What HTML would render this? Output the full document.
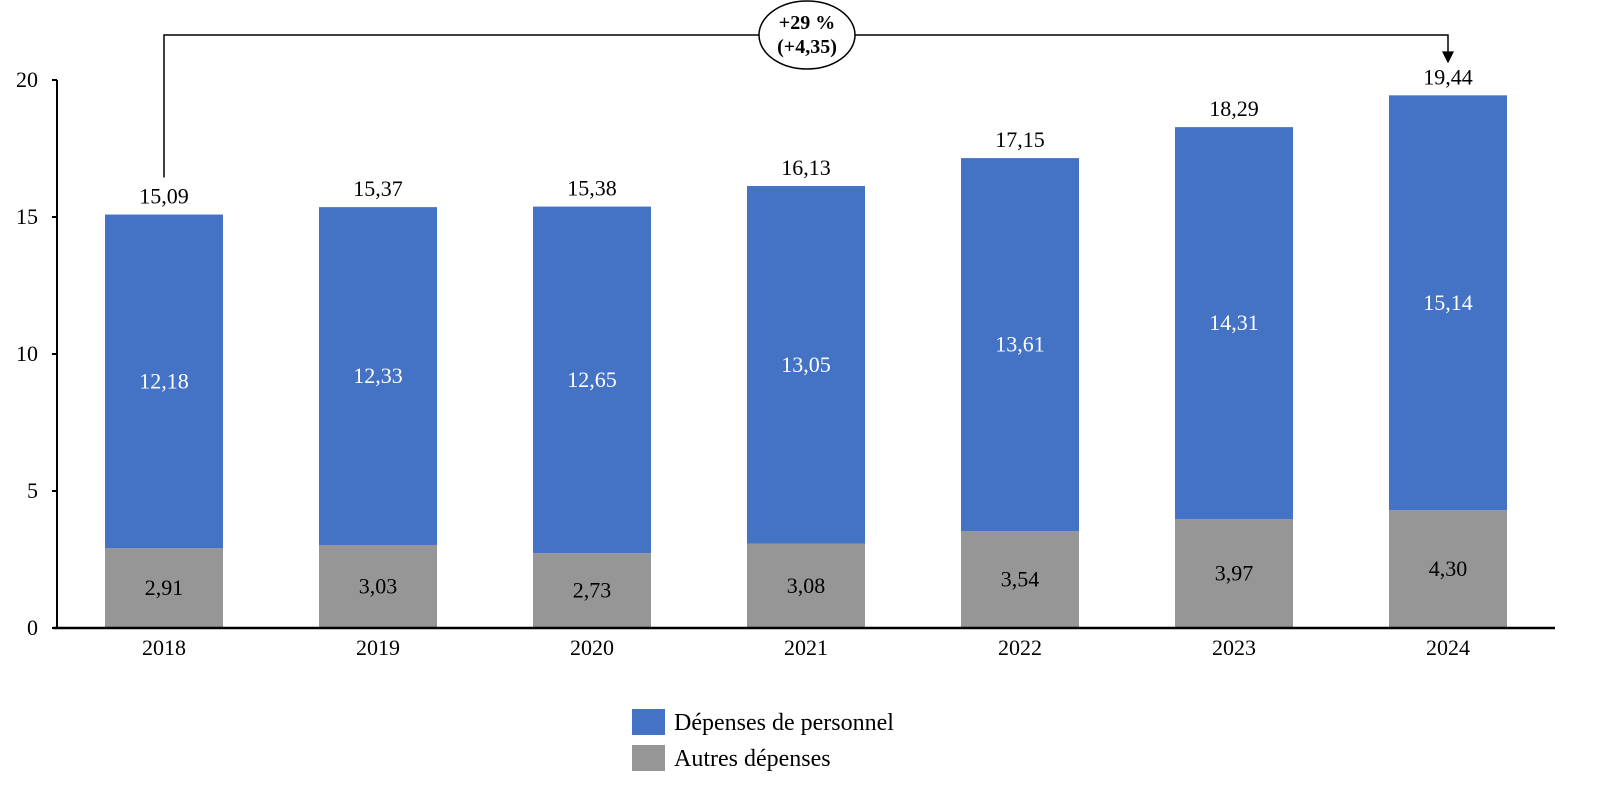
<!DOCTYPE html>
<html><head><meta charset="utf-8"><style>
body{margin:0;background:#fff}
svg text{font-family:"Liberation Serif","DejaVu Serif",serif}
</style></head><body>
<svg id="c" width="1597" height="804" xmlns="http://www.w3.org/2000/svg"></svg>
<script>
const categories=["2018","2019","2020","2021","2022","2023","2024"];
const autres=[2.91,3.03,2.73,3.08,3.54,3.97,4.30];
const personnel=[12.18,12.33,12.65,13.05,13.61,14.31,15.14];
const totals=[15.09,15.37,15.38,16.13,17.15,18.29,19.44];
const yTicks=[0,5,10,15,20];
const fmt=v=>v.toFixed(2).replace('.',',');
const svg=document.getElementById('c');const NS="http://www.w3.org/2000/svg";
function mk(t,a,p){const e=document.createElementNS(NS,t);for(const k in a)e.setAttribute(k,a[k]);(p||svg).appendChild(e);return e;}
const x0=57,x1=1555,yb=628,yt=80,ymax=20;
const y=v=>yb-(yb-yt)*v/ymax;
const step=(x1-x0)/categories.length;
const xc=i=>x0+step*(i+0.5);
const bw=118;
yTicks.forEach(t=>{
 const l=mk('line',{x1:52,x2:x0,y1:y(t),y2:y(t),stroke:'#000','stroke-width':2});
 
 const tx=mk('text',{x:38,y:y(t)+7,'text-anchor':'end','font-size':22});tx.textContent=t;
 
});
categories.forEach((c,i)=>{
 const cx=xc(i);
 const r1=mk('rect',{x:cx-bw/2,y:y(autres[i]),width:bw,height:y(0)-y(autres[i]),fill:'#969696'});
 
 const top=autres[i]+personnel[i];
 const r2=mk('rect',{x:cx-bw/2,y:y(top),width:bw,height:y(autres[i])-y(top),fill:'#4472c4'});
 
 const t1=mk('text',{x:cx,y:(y(0)+y(autres[i]))/2+7,'text-anchor':'middle','font-size':22,fill:'#000'});t1.textContent=fmt(autres[i]);
 
 const t2=mk('text',{x:cx,y:(y(autres[i])+y(top))/2+7,'text-anchor':'middle','font-size':22,fill:'#fff'});t2.textContent=fmt(personnel[i]);
 
 const t3=mk('text',{x:cx,y:y(totals[i])-11,'text-anchor':'middle','font-size':22});t3.textContent=fmt(totals[i]);
 
 const t4=mk('text',{x:cx,y:655,'text-anchor':'middle','font-size':22});t4.textContent=c;
 
});
const ax=mk('line',{x1:x0,x2:x0,y1:yt,y2:yb,stroke:'#000','stroke-width':2});

const bx=mk('line',{x1:x0-4,x2:x1,y1:yb,y2:yb,stroke:'#000','stroke-width':2.5});

const aTop=35;
const pl=mk('polyline',{points:`${xc(0)},${y(totals[0])-37} ${xc(0)},${aTop} ${xc(6)},${aTop} ${xc(6)},${y(totals[6])-40}`,fill:'none',stroke:'#000','stroke-width':1.5});

const ar=mk('polygon',{points:`${xc(6)-6},${y(totals[6])-44} ${xc(6)+6},${y(totals[6])-44} ${xc(6)},${y(totals[6])-32}`,fill:'#000'});

const el=mk('ellipse',{cx:807,cy:aTop,rx:48,ry:34,fill:'#fff',stroke:'#000','stroke-width':1.5});

const g1=mk('text',{x:807,y:29,'text-anchor':'middle','font-size':20,'font-weight':'bold'});g1.textContent='+29 %';

const g2=mk('text',{x:807,y:53,'text-anchor':'middle','font-size':20,'font-weight':'bold'});g2.textContent='(+4,35)';

[["Dépenses de personnel","#4472c4",709],["Autres dépenses","#969696",745]].forEach(([l,c,yy])=>{
 const r=mk('rect',{x:632,y:yy,width:33,height:26,fill:c});
 
 const t=mk('text',{x:674,y:yy+21,'font-size':24});t.textContent=l;
 
});
</script>
</body></html>
